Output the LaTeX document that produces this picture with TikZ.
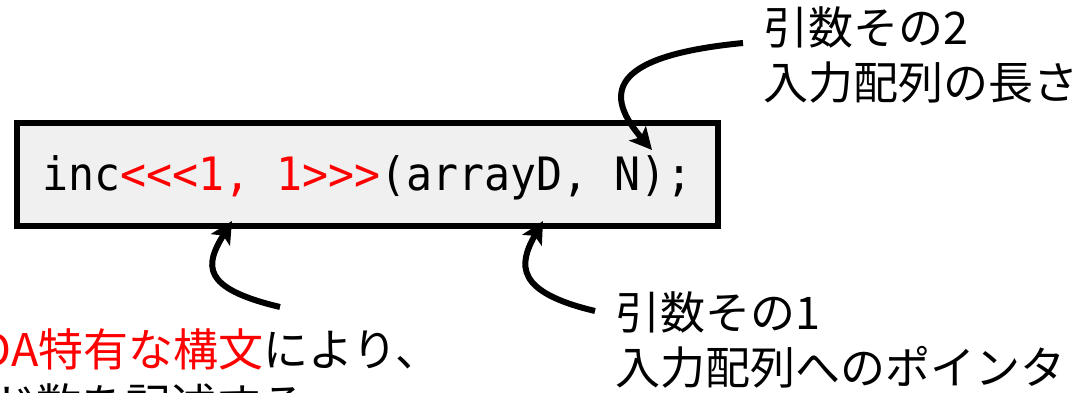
\documentclass[tikz,border=0pt]{standalone}
\usepackage{fontspec}
\setmainfont{Noto Sans CJK JP}
\newfontfamily\codefont{DejaVu Sans Mono}[FakeStretch=0.94]
\usetikzlibrary{arrows.meta}
\definecolor{boxgray}{RGB}{240,240,240}
\definecolor{hlred}{RGB}{255,0,0}
\begin{document}
\begin{tikzpicture}[x=1pt,y=-1pt,
  lbl/.style={inner sep=0pt, align=left, anchor=north west, font=\fontsize{45}{55}\selectfont},
  codebox/.style={draw=black, line width=6pt, fill=boxgray, inner sep=0pt,
    minimum width=701pt, minimum height=103pt, text height=38pt, text depth=7pt,
    font=\codefont\fontsize{46}{56}\selectfont},
  arr/.style={line width=6pt, -{Stealth[length=22pt,width=22pt,inset=5pt]}}]
\useasboundingbox (0,0) rectangle (1089,393);
\node[codebox] (code) at (367.5,174.5) {inc\textcolor{hlred}{<{}<{}<1, 1>{}>{}>}(arrayD, N);};
\node[lbl] (arg2) at (763,6) {引数その2\\入力配列の長さ};
\node[lbl] (arg1) at (615,291) {引数その1\\入力配列へのポインタ};
\node[lbl] (cfg) at (-144,328) {\hspace*{64pt}\textcolor{hlred}{CUDA特有な構文}により、\\スレッド数を記述する};
\coordinate (t2a) at (743,43);
\coordinate (h2) at (652,150);
\coordinate (t1a) at (595,311);
\coordinate (h1) at (543,221);
\coordinate (tca) at (280,307);
\coordinate (hc) at (232,221);
\draw[arr] (t2a) .. controls (620,55) and (598,88) .. (h2);
\draw[arr] (tca) .. controls (200,288) and (205,265) .. (hc);
\draw[arr] (t1a) .. controls (515,292) and (518,265) .. (h1);
\end{tikzpicture}
\end{document}
